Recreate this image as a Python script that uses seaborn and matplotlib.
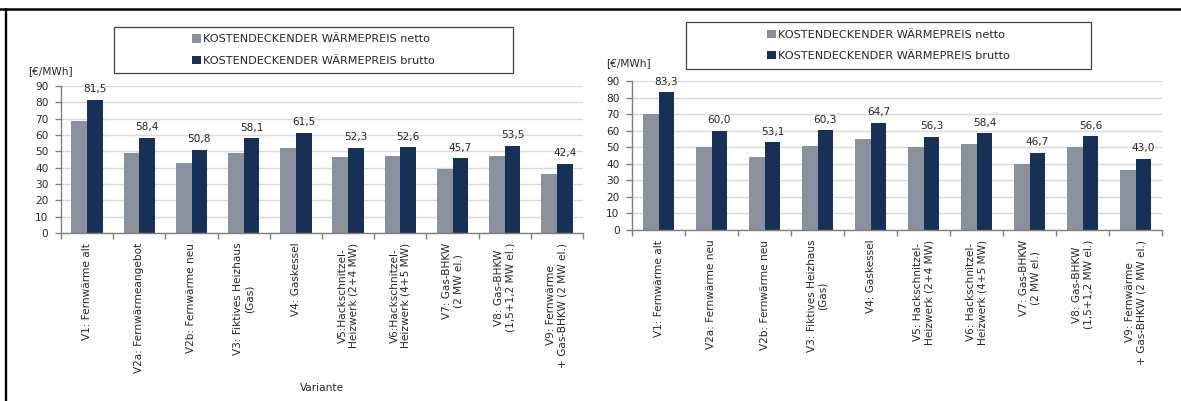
import numpy as np
import pandas as pd
import matplotlib
matplotlib.use("Agg")
import matplotlib.pyplot as plt
from matplotlib.patches import Patch, Rectangle
from matplotlib.lines import Line2D
import seaborn as sns

# --- data -------------------------------------------------------------
varianten_links = [
    "V1: Fernwärme alt",
    "V2a: Fernwärmeangebot",
    "V2b: Fernwärme neu",
    "V3: Fiktives Heizhaus\n(Gas)",
    "V4: Gaskessel",
    "V5:Hackschnitzel-\nHeizwerk (2+4 MW)",
    "V6:Hackschnitzel-\nHeizwerk (4+5 MW)",
    "V7: Gas-BHKW\n(2 MW el.)",
    "V8: Gas-BHKW\n(1,5+1,2 MW el.)",
    "V9: Fernwärme\n+ Gas-BHKW (2 MW el.)",
]
varianten_rechts = [
    "V1: Fernwärme alt",
    "V2a: Fernwärme neu",
    "V2b: Fernwärme neu",
    "V3: Fiktives Heizhaus\n(Gas)",
    "V4: Gaskessel",
    "V5: Hackschnitzel-\nHeizwerk (2+4 MW)",
    "V6: Hackschnitzel-\nHeizwerk (4+5 MW)",
    "V7: Gas-BHKW\n(2 MW el.)",
    "V8: Gas-BHKW\n(1,5+1,2 MW el.)",
    "V9: Fernwärme\n+ Gas-BHKW (2 MW el.)",
]
netto_links = [68.3, 48.9, 42.8, 48.9, 52.0, 46.4, 47.2, 39.3, 47.2, 36.2]
brutto_links = [81.5, 58.4, 50.8, 58.1, 61.5, 52.3, 52.6, 45.7, 53.5, 42.4]
netto_rechts = [70.1, 50.3, 44.3, 50.9, 54.8, 50.0, 51.7, 39.7, 50.0, 36.3]
brutto_rechts = [83.3, 60.0, 53.1, 60.3, 64.7, 56.3, 58.4, 46.7, 56.6, 43.0]

reihe_netto = "KOSTENDECKENDER WÄRMEPREIS netto"
reihe_brutto = "KOSTENDECKENDER WÄRMEPREIS brutto"
einheit = "[€/MWh]"

FARBE_NETTO = "#8A909C"
FARBE_BRUTTO = "#173156"
GRID = "#D9D9D9"
ACHSE = "#7F7F7F"
TEXT = "#262626"
FS = 7.6
FS_LEG = 8.1

sns.set_theme(style="white")
plt.rcParams["font.family"] = ["DejaVu Sans"]

fig = plt.figure(figsize=(11.81, 4.01), dpi=100)


def long_frame(kategorien, netto, brutto):
    return pd.DataFrame({
        "Variante": kategorien * 2,
        "Wert": list(netto) + list(brutto),
        "Preis": [reihe_netto] * len(netto) + [reihe_brutto] * len(brutto),
    })


def zeichne(ax, kategorien, netto, brutto):
    df = long_frame(kategorien, netto, brutto)
    sns.barplot(data=df, x="Variante", y="Wert", hue="Preis",
                hue_order=[reihe_netto, reihe_brutto],
                palette=[FARBE_NETTO, FARBE_BRUTTO], saturation=1,
                width=0.6, gap=0, legend=False, ax=ax, errorbar=None,
                linewidth=0)
    ax.set_ylim(0, 90)
    ax.set_xlim(-0.5, len(kategorien) - 0.5)
    ax.set_yticks(np.arange(0, 91, 10))
    ax.yaxis.grid(True, color=GRID, linewidth=1.0)
    ax.xaxis.grid(False)
    ax.set_axisbelow(True)
    for s in ("top", "right"):
        ax.spines[s].set_visible(False)
    for s in ("left", "bottom"):
        ax.spines[s].set_color(ACHSE)
        ax.spines[s].set_linewidth(1.0)
    ax.tick_params(axis="y", which="major", left=True, length=4, width=1,
                   color=ACHSE, labelsize=FS, labelcolor=TEXT, pad=5)
    ax.set_xticks(np.arange(-0.5, len(kategorien), 1), minor=True)
    ax.tick_params(axis="x", which="minor", bottom=True, length=4, width=1,
                   color=ACHSE)
    ax.tick_params(axis="x", which="major", bottom=False, length=0,
                   labelsize=FS, labelcolor=TEXT, pad=7)
    ax.set_xticks(range(len(kategorien)))
    ax.set_xticklabels(kategorien, rotation=90, ha="center", va="top",
                       multialignment="center", linespacing=1.15)
    ax.set_ylabel("")
    ax.set_xlabel("")
    labels = [f"{v:.1f}".replace(".", ",") for v in brutto]
    ax.bar_label(ax.containers[1], labels=labels, padding=4, fontsize=FS,
                 color=TEXT)


def legende(x0, y0, x1, y1):
    # box in pixel coordinates measured from the top-left corner
    W, H = 1181, 401
    rect = Rectangle((x0 / W, 1 - y1 / H), (x1 - x0) / W, (y1 - y0) / H,
                     transform=fig.transFigure, fill=False,
                     edgecolor="#404040", linewidth=0.9)
    fig.add_artist(rect)
    handles = [Patch(facecolor=FARBE_NETTO, edgecolor="none"),
               Patch(facecolor=FARBE_BRUTTO, edgecolor="none")]
    fig.legend(handles, [reihe_netto, reihe_brutto], loc="center",
               bbox_to_anchor=((x0 + x1) / 2 / W, 1 - (y0 + y1) / 2 / H),
               frameon=False, fontsize=FS_LEG, handlelength=0.75,
               handleheight=0.75, handletextpad=0.2, labelspacing=1.0,
               borderpad=0, labelcolor=TEXT)


ax1 = fig.add_axes([61 / 1181, 168 / 401, 522 / 1181, 147 / 401])
zeichne(ax1, varianten_links, netto_links, brutto_links)
ax1.set_xlabel("Variante", fontsize=FS, labelpad=7, color=TEXT)

ax2 = fig.add_axes([632 / 1181, 171 / 401, 530 / 1181, 149 / 401])
zeichne(ax2, varianten_rechts, netto_rechts, brutto_rechts)

legende(114, 27, 513, 73)
legende(686, 22, 1091, 69)

fig.text(28 / 1181, 1 - 71 / 401, einheit, fontsize=FS, ha="left",
         va="center", color=TEXT)
fig.text(606 / 1181, 1 - 63 / 401, einheit, fontsize=FS, ha="left",
         va="center", color=TEXT)

# outer frame lines (top and left)
fig.add_artist(Line2D([0, 1], [1 - 8.7 / 401] * 2, transform=fig.transFigure,
                      color="black", linewidth=1.8))
fig.add_artist(Line2D([6.2 / 1181] * 2, [0, 1 - 8.7 / 401],
                      transform=fig.transFigure, color="black", linewidth=1.7))

fig.savefig("out.png", dpi=100, facecolor="white")
